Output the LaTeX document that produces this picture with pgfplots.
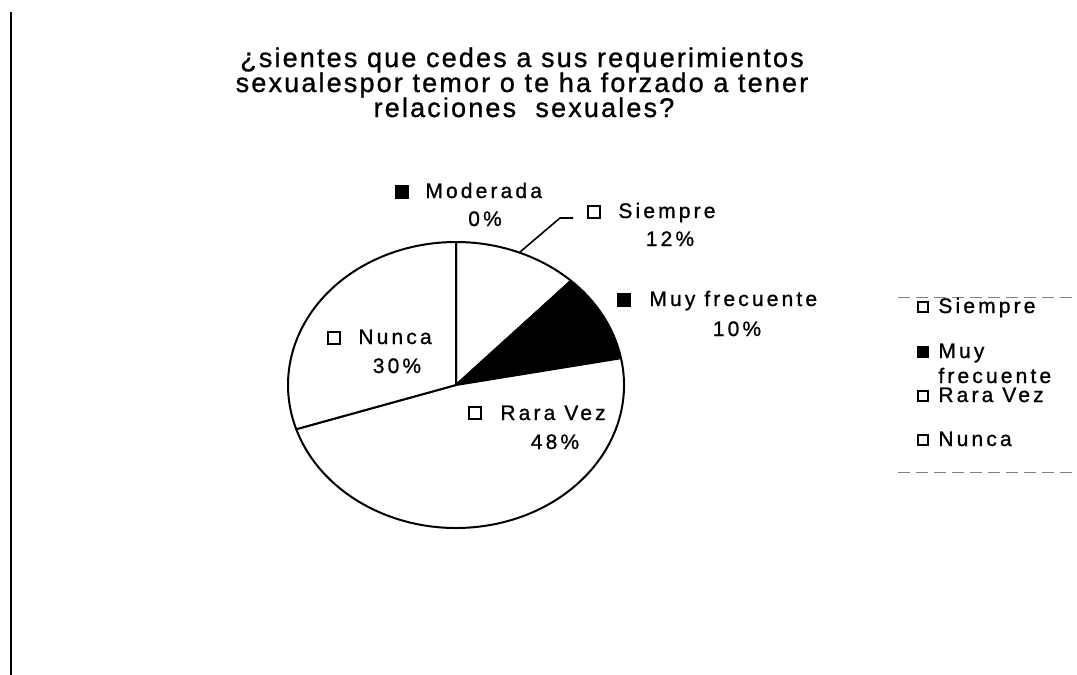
\documentclass[border=0pt]{standalone}
\usepackage{fontspec}
\setmainfont{Liberation Sans}
\newfontfamily\tfont[LetterSpace=8,FakeBold=1]{Liberation Sans}
\newfontfamily\lfont[LetterSpace=15,FakeBold=1]{Liberation Sans}
\usepackage{pgfplots}
\usepackage{pgfplotstable}
\pgfplotsset{compat=1.18}

% pie values in percent, from 12 o'clock, clockwise
\pgfplotstableread{
label         value fill
Moderada      0     black
Siempre       12    white
Muyfrecuente  10    black
RaraVez       48    white
Nunca         30    white
}\piedata

\begin{document}
% 1 unit = 1 pixel of the reference; y counted downwards as negative
\begin{tikzpicture}[x=0.5pt,y=0.5pt]
\useasboundingbox (0,0) rectangle (1077,-675);
% page edge on the left
\draw[line width=1pt] (11,-12) -- (11,-675);

% title
\begin{scope}[every node/.style={anchor=base,inner sep=0pt,font=\tfont\fontsize{13.5}{13.5}\selectfont}]
\node at (522,-67) {¿sientes que cedes a sus requerimientos};
\node at (522,-92) {sexualespor temor o te ha forzado a tener};
\node at (524,-117) {relaciones\ \ sexuales?};
\end{scope}

\begin{axis}[
    at={(228pt,-192.5pt)}, anchor=origin,
    x=84pt, y=71.5pt,
    xmin=-1, xmax=1, ymin=-1, ymax=1,
    axis lines=none, clip=false,
]
\addplot[draw=none] coordinates {(0,0)};
\xdef\s{90}
\pgfplotsforeachungrouped \i in {0,...,4}{%
  \pgfplotstablegetelem{\i}{value}\of\piedata
  \pgfmathsetmacro\e{\s-3.6*\pgfplotsretval}%
  \pgfplotstablegetelem{\i}{fill}\of\piedata
  \edef\slice{\noexpand\filldraw[fill=\pgfplotsretval,draw=black,line width=1pt,line join=round]
    (axis cs:0,0) -- (axis cs:{cos(\s)},{sin(\s)})
    arc[start angle=\s,end angle=\e,x radius=84pt,y radius=71.5pt] -- cycle;}%
  \slice
  \xdef\s{\e}%
}
\end{axis}

% leader line for Siempre
\draw[line width=0.8pt] (520,-252) -- (560,-218) -- (573,-218);

% data labels
\tikzset{lab/.style={inner sep=0pt,font=\lfont\fontsize{10.5}{12}\selectfont},
         sq/.style={draw=black,line width=0.9pt,minimum size=6.3pt,inner sep=0pt}}
\node[sq,fill=black] at (402,-192) {};
\node[lab,anchor=base west] at (425,-198) {Moderada};
\node[lab,anchor=base] at (485,-226) {0\%};

\node[sq,fill=white] at (594,-212) {};
\node[lab,anchor=base west] at (618,-218) {Siempre};
\node[lab,anchor=base] at (670,-246) {12\%};

\node[sq,fill=black] at (624,-300) {};
\node[lab,anchor=base west] at (649,-306) {Muy frecuente};
\node[lab,anchor=base] at (737,-336) {10\%};

\node[sq,fill=white] at (334,-338) {};
\node[lab,anchor=base west] at (358,-344) {Nunca};
\node[lab,anchor=base] at (397,-373) {30\%};

\node[sq,fill=white] at (475,-413) {};
\node[lab,anchor=base west] at (500,-420) {Rara Vez};
\node[lab,anchor=base] at (555,-449) {48\%};

% legend
\draw[gray,line width=0.5pt,dash pattern=on 6pt off 3pt] (898,-297) -- (1075,-297);
\draw[gray,line width=0.5pt,dash pattern=on 6pt off 3pt] (898,-472) -- (1075,-472);
\tikzset{lsq/.style={draw=black,line width=0.8pt,minimum size=5.2pt,inner sep=0pt}}
\node[lsq,fill=white,line width=1.2pt] at (923,-307) {};
\node[lab,anchor=base west] at (938,-313) {Siempre};
\node[lsq,fill=black] at (923,-352) {};
\node[lab,anchor=base west] at (938,-358) {Muy};
\node[lab,anchor=base west] at (938,-383) {frecuente};
\node[lsq,fill=white] at (923,-396) {};
\node[lab,anchor=base west] at (938,-402) {Rara Vez};
\node[lsq,fill=white] at (923,-440) {};
\node[lab,anchor=base west] at (938,-446) {Nunca};
\end{tikzpicture}
\end{document}
